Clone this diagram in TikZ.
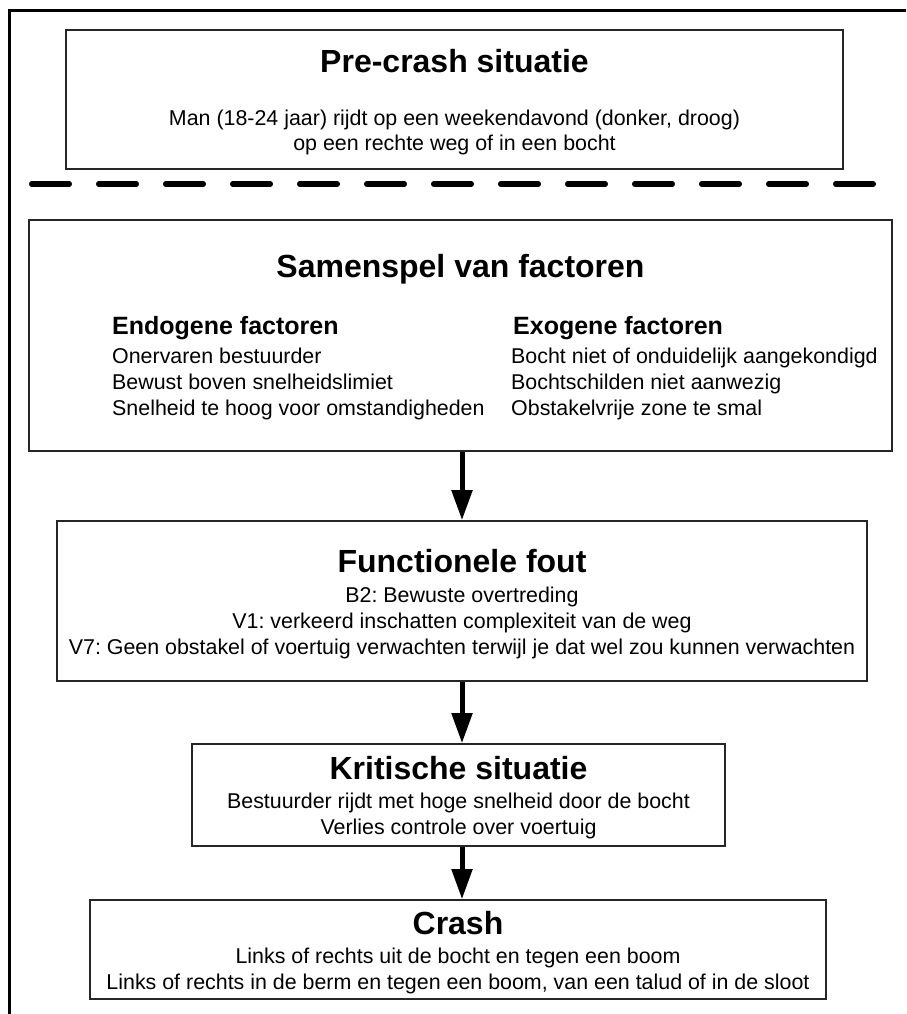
\documentclass[tikz,border=0pt]{standalone}
\usepackage{fontspec}
\setmainfont{Liberation Sans}
\usetikzlibrary{arrows.meta}

\tikzset{
  framebox/.style={draw=black!85, line width=1.6pt, inner sep=0pt, fill=none},
  title/.style={font=\bfseries\fontsize{32}{36}\selectfont, inner sep=0pt},
  subhead/.style={font=\bfseries\fontsize{25}{28}\selectfont, inner sep=0pt, anchor=west},
  body/.style={font=\fontsize{21.4}{26}\selectfont, inner sep=0pt, align=center},
  bodyleft/.style={font=\fontsize{21.4}{26}\selectfont, inner sep=0pt, align=left, anchor=west},
  flow/.style={line width=5pt, -{Triangle[width=20pt,length=30pt]}},
}

\begin{document}
\frenchspacing
\begin{tikzpicture}[x=1pt, y=-1pt]
  \useasboundingbox (0,0) rectangle (906,1014);

  % outer frame (left and top edges)
  \draw[line width=3pt] (9,1014) -- (9,11) -- (906,11);

  % pre-crash
  \node[framebox, minimum width=777pt, minimum height=139pt] (pre) at (454.5,99.5) {};
  \node[title] (preT) at (454.5,61.5) {Pre-crash situatie};
  \node[body, font=\fontsize{21.4}{25.5}\selectfont] (preB) at (454.5,132.5) {Man (18-24 jaar) rijdt op een weekendavond (donker, droog)\\op een rechte weg of in een bocht};

  % separator
  \draw[line width=5.5pt, line cap=round, dash pattern=on 37.5pt off 29.5pt] (31.75,184) -- (873.25,184);

  % interplay of factors
  \node[framebox, minimum width=863pt, minimum height=231pt] (sam) at (460.5,335.5) {};
  \node[title] (samT) at (460.5,269.5) {Samenspel van factoren};
  \node[subhead] (endoT) at (112,328) {Endogene factoren};
  \node[bodyleft] (endoB) at (112,384) {Onervaren bestuurder\\Bewust boven snelheidslimiet\\Snelheid te hoog voor omstandigheden};
  \node[subhead] (exoT) at (513,328) {Exogene factoren};
  \node[bodyleft] (exoB) at (511,384) {Bocht niet of onduidelijk aangekondigd\\Bochtschilden niet aanwezig\\Obstakelvrije zone te smal};

  % functional error
  \node[framebox, minimum width=810pt, minimum height=160pt] (fun) at (462,601) {};
  \node[title] (funT) at (462,561) {Functionele fout};
  \node[body] (funB) at (462,623) {B2: Bewuste overtreding\\V1: verkeerd inschatten complexiteit van de weg\\V7: Geen obstakel of voertuig verwachten terwijl je dat wel zou kunnen verwachten};

  % critical situation
  \node[framebox, minimum width=533pt, minimum height=102pt] (kri) at (458.5,795) {};
  \node[title] (kriT) at (458.5,768) {Kritische situatie};
  \node[body] (kriB) at (458.5,816) {Bestuurder rijdt met hoge snelheid door de bocht\\Verlies controle over voertuig};

  % crash
  \node[framebox, minimum width=736pt, minimum height=99pt] (cra) at (458,949.5) {};
  \node[title] (craT) at (458,923) {Crash};
  \node[body] (craB) at (458,970.5) {Links of rechts uit de bocht en tegen een boom\\Links of rechts in de berm en tegen een boom, van een talud of in de sloot};

  % flow arrows
  \draw[flow] (sam.south -| 462,0) -- (fun.north -| 462,0);
  \draw[flow] (fun.south -| 462,0) -- (kri.north -| 462,0);
  \draw[flow] (kri.south -| 462,0) -- (cra.north -| 462,0);
\end{tikzpicture}
\end{document}
